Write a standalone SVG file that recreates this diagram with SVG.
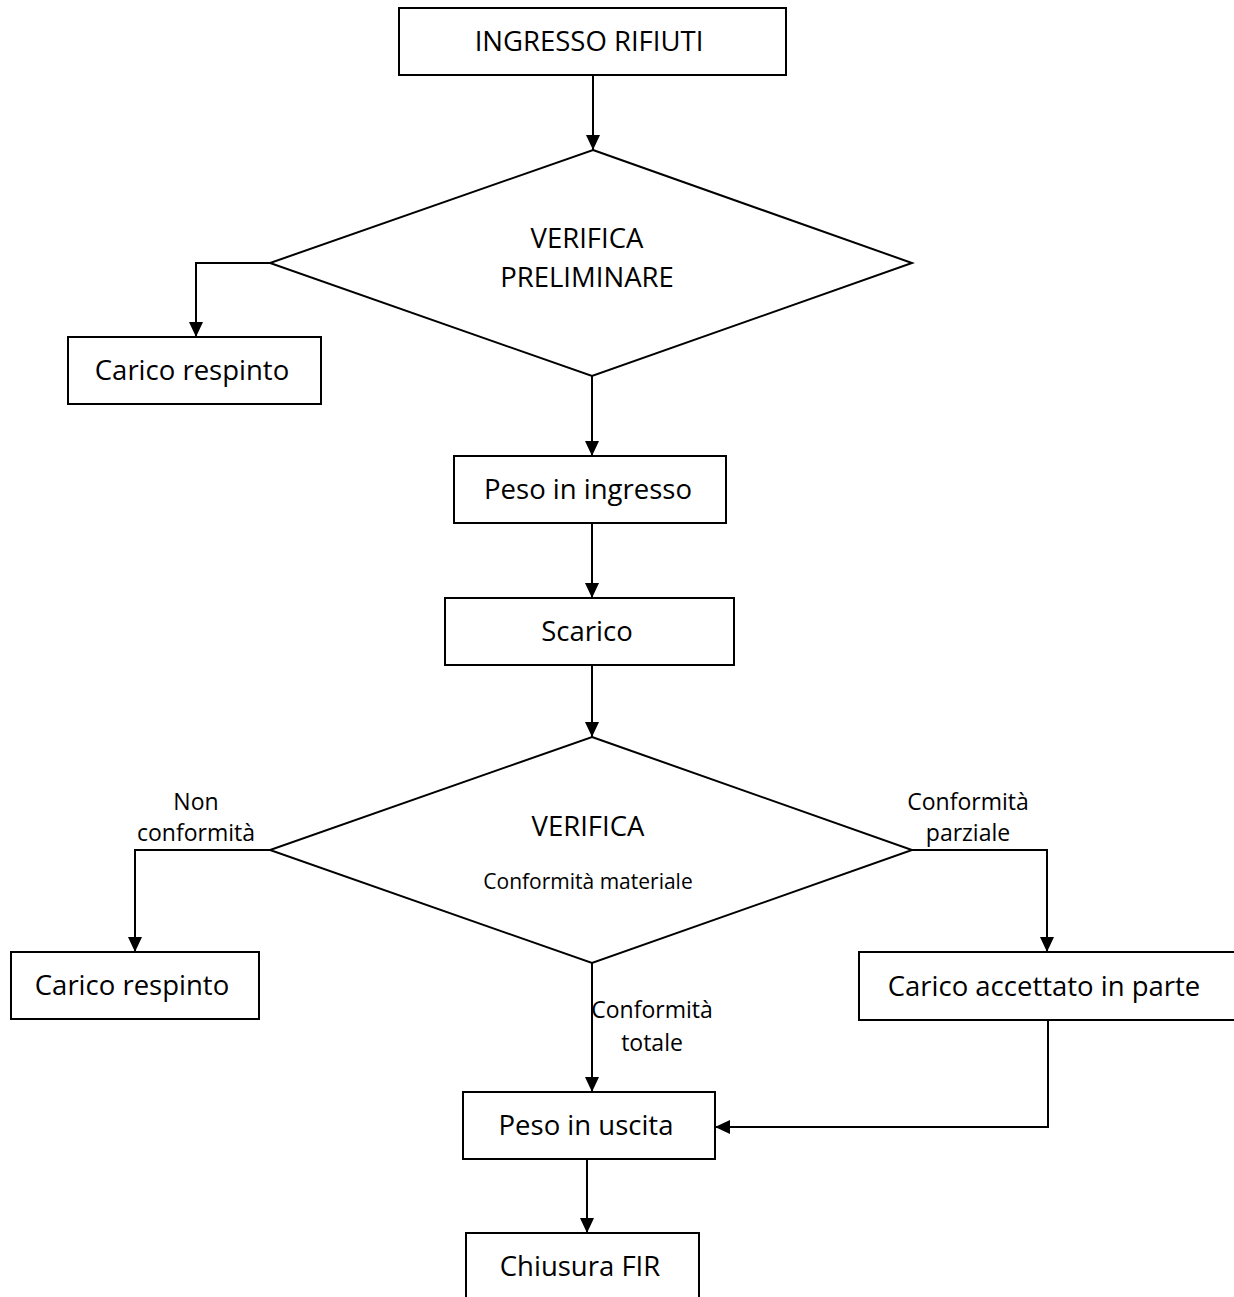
<svg xmlns="http://www.w3.org/2000/svg" width="1234" height="1297" viewBox="0 0 1234 1297">
<style>
.box{fill:#fff;stroke:#000;stroke-width:2}
.t{font-family:"Open Sans","Liberation Sans",sans-serif;font-size:27.5px;fill:#000;text-anchor:middle}
.s{font-family:"Open Sans","Liberation Sans",sans-serif;font-size:23px;fill:#000;text-anchor:middle}
.c{fill:none;stroke:#000;stroke-width:2}
</style>
<defs>
<marker id="ah" markerWidth="15" markerHeight="14" refX="15" refY="7" orient="auto" markerUnits="userSpaceOnUse">
<path d="M0,0 L15,7 L0,14 Z" fill="#000"/>
</marker>
</defs>
<rect width="1234" height="1297" fill="#fff"/>
<g id="connectors">
<path class="c" d="M593,75 V150" marker-end="url(#ah)"/>
<path class="c" d="M270,263 H196 V337" marker-end="url(#ah)"/>
<path class="c" d="M592,376 V456" marker-end="url(#ah)"/>
<path class="c" d="M592,523 V598" marker-end="url(#ah)"/>
<path class="c" d="M592,665 V737" marker-end="url(#ah)"/>
<path class="c" d="M270,850 H135 V952" marker-end="url(#ah)"/>
<path class="c" d="M912,850 H1047 V952" marker-end="url(#ah)"/>
<path class="c" d="M592,963 V1092" marker-end="url(#ah)"/>
<path class="c" d="M1048,1020 V1127 H715" marker-end="url(#ah)"/>
<path class="c" d="M587,1159 V1233" marker-end="url(#ah)"/>
<text class="s" x="196" y="810">Non</text>
<text class="s" x="196" y="841">conformità</text>
<text class="s" x="968" y="810">Conformità</text>
<text class="s" x="968" y="841">parziale</text>
<text class="s" x="652" y="1018">Conformità</text>
<text class="s" x="652" y="1051">totale</text>
</g>
<g id="n1"><rect class="box" x="399" y="8" width="387" height="67"/><text class="t" x="589" y="51">INGRESSO RIFIUTI</text></g>
<g id="d1"><polygon class="box" points="593,150 912,263 592,376 270,263"/><text class="t" x="587" y="248">VERIFICA</text><text class="t" x="587" y="287">PRELIMINARE</text></g>
<g id="n2"><rect class="box" x="68" y="337" width="253" height="67"/><text class="t" x="192" y="380">Carico respinto</text></g>
<g id="n3"><rect class="box" x="454" y="456" width="272" height="67"/><text class="t" x="588" y="499">Peso in ingresso</text></g>
<g id="n4"><rect class="box" x="445" y="598" width="289" height="67"/><text class="t" x="587" y="641">Scarico</text></g>
<g id="d2"><polygon class="box" points="592,737 912,850 592,963 270,850"/><text class="t" x="588" y="836">VERIFICA</text><text class="s" x="588" y="889" style="font-size:21px">Conformità materiale</text></g>
<g id="n5"><rect class="box" x="11" y="952" width="248" height="67"/><text class="t" x="132" y="995">Carico respinto</text></g>
<g id="n6"><rect class="box" x="859" y="952" width="380" height="68"/><text class="t" x="1044" y="996">Carico accettato in parte</text></g>
<g id="n7"><rect class="box" x="463" y="1092" width="252" height="67"/><text class="t" x="586" y="1135">Peso in uscita</text></g>
<g id="n8"><rect class="box" x="466" y="1233" width="233" height="80"/><text class="t" x="580" y="1276">Chiusura FIR</text></g>
</svg>
